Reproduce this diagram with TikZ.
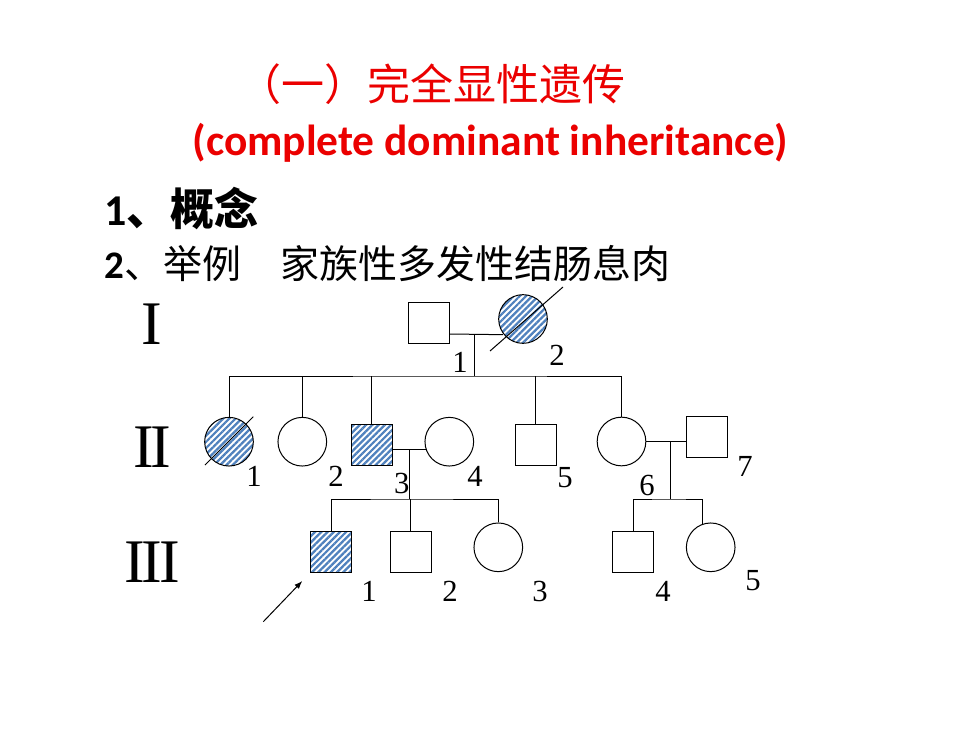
\documentclass[tikz,border=0pt]{standalone}
\usepackage{fontspec}
\setmainfont{Liberation Serif}
\newfontfamily\cjk{Noto Sans CJK SC}
\newfontfamily\calibri{Carlito}
\usetikzlibrary{arrows.meta, patterns.meta, calc}
\definecolor{hatchblue}{RGB}{79,129,189}
\definecolor{titlered}{RGB}{235,0,0}
\tikzset{
  male/.style={draw, minimum size=30.75pt, inner sep=0pt},
  female/.style={draw, circle, minimum size=36.5pt, inner sep=0pt},
  affected/.style={pattern={Lines[angle=45,distance=3.3pt,line width=1.7pt]}, pattern color=hatchblue},
  gen/.style={inner sep=0pt, font=\fontsize{46.5}{50}\selectfont},
  num/.style={inner sep=0pt, font=\fontsize{23}{26}\selectfont},
}

\begin{document}
\begin{tikzpicture}[x=0.75pt, y=-0.75pt, line width=0.75pt]
    \fill[white] (0,0) rectangle (980,735);
    \useasboundingbox (0,0) rectangle (980,735);
    % Headings
    \node[anchor=west, inner sep=0pt, text=titlered, font=\cjk\fontsize{32.25}{36}\selectfont] (title) at (238,84) {（一）完全显性遗传};
    \node[anchor=base west, inner sep=0pt, text=titlered, font=\calibri\bfseries\fontsize{32.6}{36}\selectfont] (subtitle) at (192,155) {(complete dominant inheritance)};
    \node[anchor=base west, inner sep=0pt, font=\fontsize{33}{36}\selectfont] (item1) at (104,225) {{\calibri\bfseries 1}{\cjk\bfseries 、概念}};
    \node[anchor=base west, inner sep=0pt, font=\fontsize{29.25}{34}\selectfont] (item2) at (104,278) {{\calibri\bfseries 2}{\cjk 、举例　家族性多发性结肠息肉}};
    % Generation numerals
    \node[gen] (genI) at (152,324.5) {I};
    \node[gen] (genII) at (152,447.5) {I\kern-2.5pt I};
    \node[gen] (genIII) at (152,561.7) {I\kern-2.5pt I\kern-2.5pt I};
    % Generation I
    \node[male] (I1) at (429,323) {};
    \node[female, affected] (I2) at (523,319) {};
    \draw (I2.center) +(-33,32) -- +(40,-32);
    \coordinate (m1) at (474,334);
    \coordinate (sib1) at (474,376);
    \draw (I1.east |- m1) -- (I2.218);
    \draw (m1) -- (sib1);
    % Generation II
    \node[female, affected] (II1) at (229,441.7) {};
    \draw (II1.center) +(-24,23.3) -- +(24.3,-25);
    \node[female] (II2) at (302.3,441.7) {};
    \node[male, affected] (II3) at (371.7,445.3) {};
    \node[female] (II4) at (449.3,441.7) {};
    \node[male] (II5) at (535.5,445.3) {};
    \node[female] (II6) at (621.5,441.5) {};
    \node[male] (II7) at (706.7,437.2) {};
    \draw (II1.north) |- (sib1) -| (II6.north);
    \foreach \k in {2,3,5}
        \draw (II\k.north) -- (II\k.north |- sib1);
    % Marriages in generation II
    \coordinate (m3) at ($(II3.east |- II4.198)!0.5!(II4.198)$);
    \coordinate (sib3) at (m3 |- 0,499);
    \draw (II3.east |- II4.198) -- (II4.198);
    \draw (m3) -- (sib3);
    \coordinate (m6) at (670,441.5);
    \coordinate (sib6) at (670,499);
    \draw (II6.east) -- (II7.west |- II6.east);
    \draw (m6) -- (sib6);
    % Generation III
    \node[male, affected] (III1) at (331.2,551.7) {};
    \node[male] (III2) at (410.5,551.7) {};
    \node[female] (III3) at (498.3,547.3) {};
    \node[male] (III4) at (633.3,551.7) {};
    \node[female] (III5) at (710.7,547.3) {};
    \draw (III1.north) |- (sib3) -| (III3.north);
    \draw (III2.north) -- (III2.north |- sib3);
    \draw (III4.north) |- (sib6) -| (III5.110);
    % Individual numbers
    \node[num] (nI1) at (460,362) {1};
    \node[num] (nI2) at (557,355) {2};
    \node[num] (nII1) at (254,476) {1};
    \node[num] (nII2) at (336,476) {2};
    \node[num] (nII3) at (401.7,483) {3};
    \node[num] (nII4) at (475,476) {4};
    \node[num] (nII5) at (565,478) {5};
    \node[num] (nII6) at (647,485) {6};
    \node[num] (nII7) at (745,466.7) {7};
    \node[num] (nIII1) at (369,591) {1};
    \node[num] (nIII2) at (450,591) {2};
    \node[num] (nIII3) at (540,591) {3};
    \node[num] (nIII4) at (663,591) {4};
    \node[num] (nIII5) at (753,581) {5};
    % Proband arrow
    \coordinate (ptail) at (263.3,621.7);
    \coordinate (ptip) at (302.3,581);
    \draw[-{Latex[length=6pt,width=4.5pt]}] (ptail) -- (ptip);
\end{tikzpicture}
\end{document}
